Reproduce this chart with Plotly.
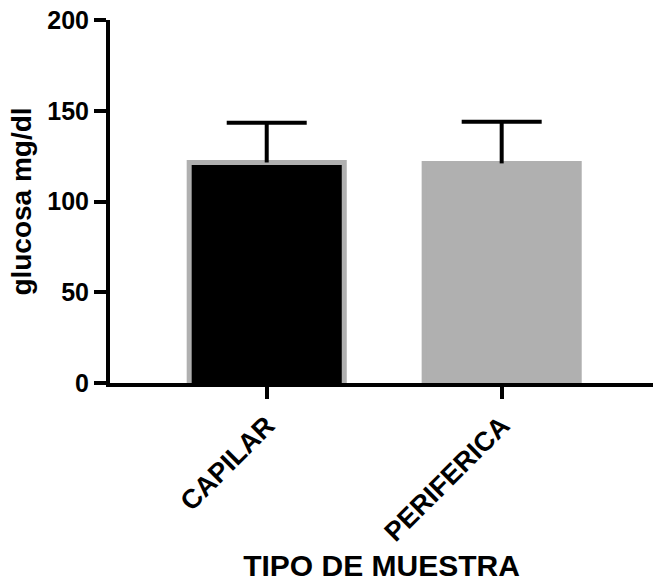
import plotly.graph_objects as go

categories = ["CAPILAR", "PERIFERICA"]
means = [121.5, 121.0]
sd_plus = [21.9, 23.0]
fill_colors = ["#000000", "#b0b0b0"]
y_ticks = [0, 50, 100, 150, 200]
x_title = "TIPO DE MUESTRA"
y_title = "glucosa mg/dl"

FONT = "Liberation Sans, Arial, sans-serif"
BORDER_BASE = -1.4  # hides the bottom edge of the bar outline below the axis
tops = [m + s for m, s in zip(means, sd_plus)]

fig = go.Figure()
fig.add_trace(go.Bar(
    x=categories,
    y=[m - BORDER_BASE for m in means],
    base=BORDER_BASE,
    width=0.66,
    marker=dict(color=fill_colors, line=dict(color="#b0b0b0", width=5)),
    error_y=dict(type="data", array=sd_plus, symmetric=False, arrayminus=[0, 0],
                 color="#000000", thickness=4, width=0),
    showlegend=False,
    hoverinfo="skip",
))
# caps at the top of the error bars only
fig.add_trace(go.Scatter(
    x=categories,
    y=tops,
    mode="markers",
    marker=dict(size=1, opacity=0),
    error_y=dict(type="data", array=[0, 0], color="#000000", thickness=4, width=40),
    showlegend=False,
    hoverinfo="skip",
))

fig.update_layout(
    width=653, height=582,
    margin=dict(l=110, r=0, t=20, b=199),
    plot_bgcolor="white", paper_bgcolor="white",
    font=dict(family=FONT, color="black"),
)
fig.update_xaxes(
    range=[-0.667, 1.644],
    automargin=False,
    showline=True, linecolor="black", linewidth=4,
    ticks="outside", ticklen=12, tickwidth=4, tickcolor="black",
    tickangle=-45,
    tickfont=dict(family=FONT, size=27, color="black", weight="bold"),
    title=dict(text=x_title, font=dict(family=FONT, size=30, color="black", weight="bold"), standoff=18),
    showgrid=False, zeroline=False,
)
fig.update_yaxes(
    range=[0, 200],
    automargin=False,
    tickvals=y_ticks,
    showline=True, linecolor="black", linewidth=4,
    ticks="outside", ticklen=12, tickwidth=4, tickcolor="black",
    tickfont=dict(family=FONT, size=25, color="black", weight="bold"),
    title=dict(text=y_title, font=dict(family=FONT, size=28, color="black", weight="bold"), standoff=8),
    showgrid=False, zeroline=False,
)

fig.write_html("out.html", config={"displayModeBar": False},
               post_script="document.body.style.margin='0';")
